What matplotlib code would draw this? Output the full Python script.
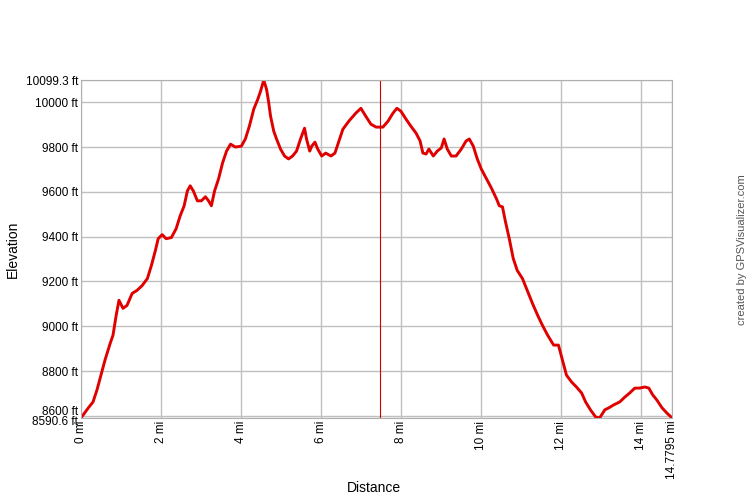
import matplotlib
matplotlib.use("Agg")
import matplotlib.pyplot as plt
import matplotlib.transforms as mtransforms

plt.rcParams['font.family'] = ['Liberation Sans', 'DejaVu Sans']

# elevation profile (miles, feet)
dist_mi = [0.0, 0.18, 0.3, 0.4, 0.5, 0.6, 0.73, 0.8, 0.88, 0.95, 1.05, 1.15, 1.28, 1.4,
           1.53, 1.66, 1.76, 1.86, 1.93, 2.03, 2.13, 2.26, 2.38, 2.48, 2.58, 2.66, 2.73,
           2.81, 2.91, 3.01, 3.11, 3.19, 3.26, 3.34, 3.44, 3.54, 3.64, 3.74, 3.86, 4.01,
           4.11, 4.21, 4.32, 4.42, 4.49, 4.57, 4.64, 4.69, 4.74, 4.82, 4.89, 4.99, 5.09,
           5.19, 5.29, 5.39, 5.49, 5.59, 5.64, 5.72, 5.77, 5.85, 5.92, 6.02, 6.12, 6.25,
           6.35, 6.45, 6.55, 6.7, 6.87, 7.0, 7.12, 7.25, 7.38, 7.55, 7.68, 7.8, 7.9, 8.0,
           8.13, 8.25, 8.38, 8.48, 8.55, 8.63, 8.7, 8.81, 8.91, 9.01, 9.08, 9.16, 9.26,
           9.38, 9.51, 9.63, 9.71, 9.81, 9.91, 10.01, 10.14, 10.26, 10.39, 10.46, 10.54,
           10.61, 10.71, 10.81, 10.91, 11.04, 11.16, 11.29, 11.42, 11.54, 11.67, 11.82,
           11.94, 12.04, 12.14, 12.27, 12.39, 12.52, 12.62, 12.74, 12.87, 12.97, 13.1,
           13.2, 13.32, 13.47, 13.6, 13.72, 13.85, 13.97, 14.1, 14.2, 14.3, 14.4, 14.53,
           14.65, 14.7795]
elev_ft = [8591, 8635, 8662, 8716, 8782, 8849, 8924, 8960, 9049, 9116, 9080, 9093, 9147,
           9160, 9182, 9213, 9271, 9338, 9391, 9409, 9391, 9396, 9436, 9493, 9538, 9604,
           9627, 9604, 9560, 9560, 9578, 9560, 9538, 9604, 9658, 9729, 9782, 9813, 9800,
           9804, 9836, 9893, 9969, 10013, 10049, 10099, 10058, 10004, 9938, 9871, 9836,
           9791, 9760, 9747, 9760, 9782, 9836, 9884, 9836, 9782, 9804, 9822, 9791, 9760,
           9773, 9760, 9773, 9827, 9880, 9916, 9951, 9973, 9938, 9902, 9889, 9889, 9916,
           9951, 9973, 9960, 9924, 9893, 9862, 9827, 9773, 9769, 9791, 9760, 9782, 9796,
           9836, 9791, 9760, 9760, 9791, 9827, 9836, 9804, 9747, 9702, 9658, 9618, 9569,
           9538, 9533, 9471, 9391, 9302, 9249, 9213, 9160, 9102, 9049, 9004, 8960, 8916,
           8916, 8849, 8782, 8751, 8729, 8702, 8662, 8627, 8595, 8591, 8627, 8636, 8649,
           8662, 8684, 8702, 8724, 8724, 8729, 8724, 8693, 8671, 8636, 8613, 8591]

x_ticks = [0, 2, 4, 6, 8, 10, 12, 14, 14.7795]
x_labels = ['0 mi', '2 mi', '4 mi', '6 mi', '8 mi', '10 mi', '12 mi', '14 mi', '14.7795 mi']
y_ticks = [8590.6, 8600, 8800, 9000, 9200, 9400, 9600, 9800, 10000, 10099.3]
y_labels = ['8590.6 ft', '8600 ft', '8800 ft', '9000 ft', '9200 ft', '9400 ft',
            '9600 ft', '9800 ft', '10000 ft', '10099.3 ft']
marker_mi = 7.48

fig = plt.figure(figsize=(7.5, 5), dpi=100)
ax = fig.add_axes([0.108, 0.164, 0.788, 0.676])

ax.plot(dist_mi, elev_ft, color='#e00000', lw=2.1, solid_joinstyle='round')
ax.axvline(marker_mi, color='#d00000', lw=0.8)

ax.set_xlim(0, 14.7795)
ax.set_ylim(8590.6, 10099.3)
ax.set_xticks(x_ticks)
ax.set_xticklabels(x_labels, rotation=90, fontsize=8.5)
ax.set_yticks(y_ticks)
ax.set_yticklabels(y_labels, fontsize=8.5)
ax.tick_params(length=0, pad=2, colors='black')

# the end labels crowd each other, push them apart
ylabs = ax.get_yticklabels()
ylabs[1].set_transform(ylabs[1].get_transform() +
                       mtransforms.ScaledTranslation(0, 4 / 72, fig.dpi_scale_trans))
ylabs[0].set_transform(ylabs[0].get_transform() +
                       mtransforms.ScaledTranslation(0, -2 / 72, fig.dpi_scale_trans))

ax.grid(True, color='#c0c0c0', lw=1)
ax.set_axisbelow(True)
for s in ax.spines.values():
    s.set_color('#b0b0b0')

ax.set_xlabel('Distance', fontsize=10)
ax.set_ylabel('Elevation', fontsize=10)
ax.xaxis.set_label_coords(0.496, -0.185)
ax.yaxis.set_label_coords(-0.103, 0.5)

fig.text(0.989, 0.5, 'created by GPSVisualizer.com', rotation=90, fontsize=8,
         color='#555555', ha='center', va='center')

fig.savefig('out.png', dpi=100)
